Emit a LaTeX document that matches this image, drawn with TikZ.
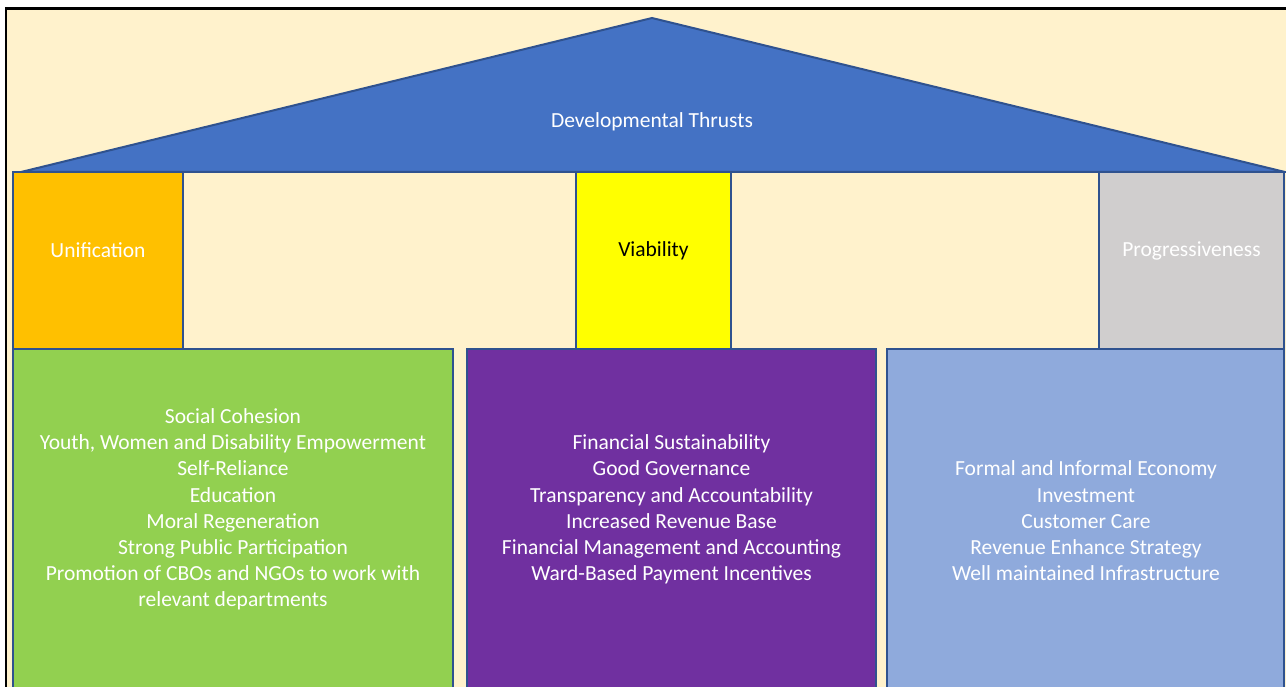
\documentclass[tikz,border=0pt]{standalone}
\usepackage{fontspec}
\setmainfont{Carlito}
\definecolor{cream}{HTML}{FFF2CC}
\definecolor{roof}{HTML}{4472C4}
\definecolor{edge}{HTML}{2F528F}
\definecolor{unifc}{HTML}{FFC000}
\definecolor{viabc}{HTML}{FFFF00}
\definecolor{progc}{HTML}{D0CECE}
\definecolor{greenc}{HTML}{92D050}
\definecolor{purplec}{HTML}{7030A0}
\definecolor{bluec}{HTML}{8FAADC}
\tikzset{
  box/.style={draw=edge, line width=2pt},
  label/.style={text=white, align=center, font=\fontsize{21.5}{26.2}\selectfont, inner sep=0pt}
}
\begin{document}
\begin{tikzpicture}[x=1pt, y=-1pt]
\useasboundingbox (0,0) rectangle (1286,687);
% background and frame
\fill[cream] (6,8.5) rectangle (1292,692);
\draw[black, line width=2.5pt] (6,692) -- (6,8.5) -- (1292,8.5);
% roof
\draw[box, fill=roof, line join=miter] (21,172) -- (652,18) -- (1285,172) -- cycle;
\node[label] (thrusts) at (652,121.5) {Developmental Thrusts};
% pillars
\draw[box, fill=unifc] (13,172) rectangle (183,349);
\draw[box, fill=viabc] (576,172) rectangle (731,349);
\draw[box, fill=progc] (1099,172) rectangle (1284,349);
\node[label] (unif) at (98,250.5) {Unification};
\node[label, text=black] (viab) at (653.5,250.5) {Viability};
\node[label] (prog) at (1191.5,250.5) {Progressiveness};
% foundation blocks
\draw[box, fill=greenc] (13,349) rectangle (453,695);
\draw[box, fill=purplec] (467,349) rectangle (876,695);
\draw[box, fill=bluec] (887,349) rectangle (1284,695);
\node[label] (social) at (233,509.5) {Social Cohesion\\
  Youth, Women and Disability Empowerment\\
  Self-Reliance\\
  Education\\
  Moral Regeneration\\
  Strong Public Participation\\
  Promotion of CBOs and NGOs to work with\\
  relevant departments};
\node[label] (finance) at (671.5,509.5) {Financial Sustainability\\
  Good Governance\\
  Transparency and Accountability\\
  Increased Revenue Base\\
  Financial Management and Accounting\\
  Ward-Based Payment Incentives};
\node[label] (economy) at (1086,521) {Formal and Informal Economy\\
  Investment\\
  Customer Care\\
  Revenue Enhance Strategy\\
  Well maintained Infrastructure};
\end{tikzpicture}
\end{document}
